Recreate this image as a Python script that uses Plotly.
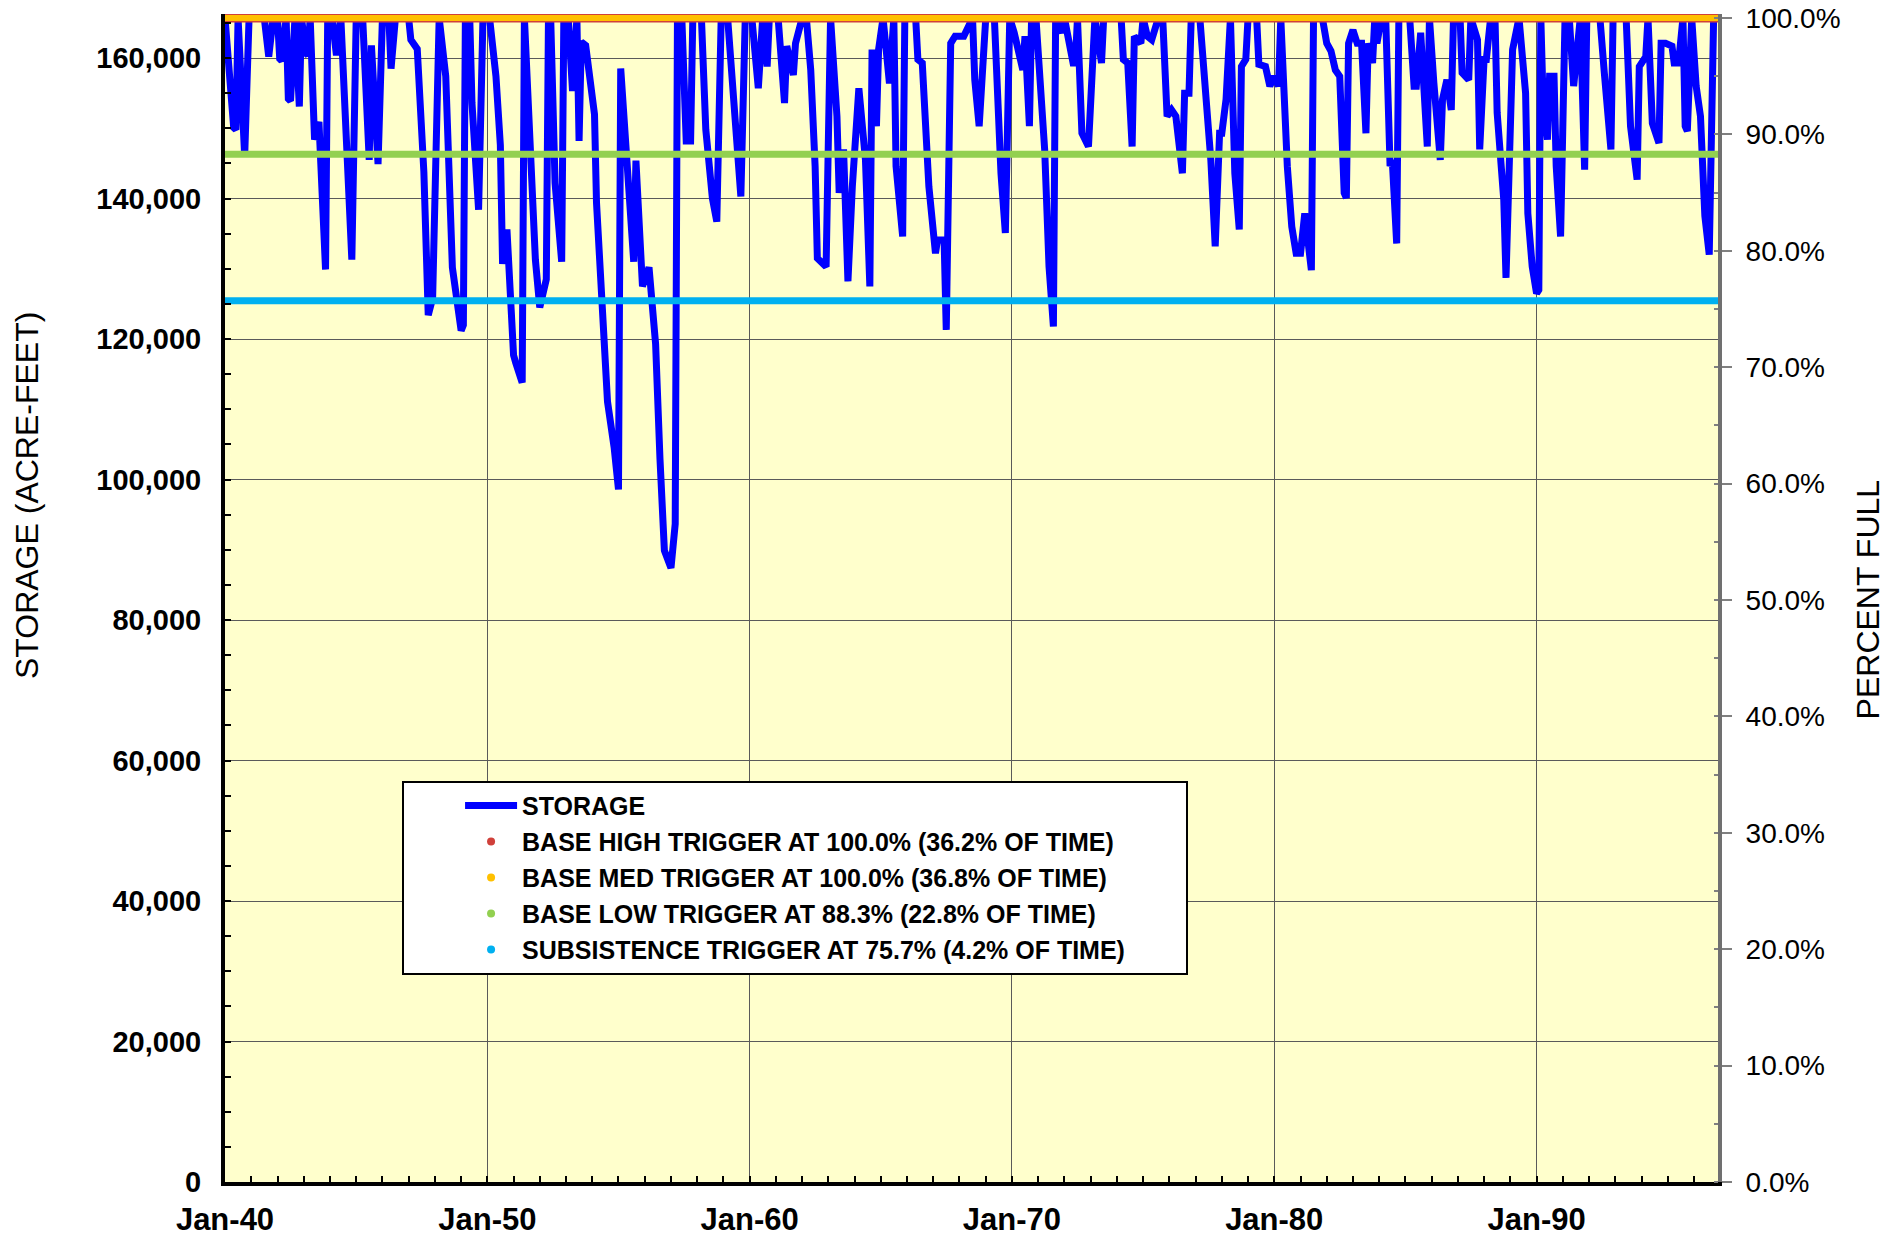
import plotly.graph_objects as go

# ---------------- data ----------------
CAPACITY_AF = 165700          # 100 % full, acre-feet
T = CAPACITY_AF               # reservoir full

months = [
    "1940-01", "1940-02", "1940-05", "1940-06", "1940-07", "1940-10", "1940-12",
    "1941-07", "1941-09", "1941-11",
    "1942-01", "1942-02", "1942-03", "1942-05", "1942-06", "1942-07", "1942-09", "1942-11", "1942-12",
    "1943-02", "1943-03", "1943-04", "1943-06", "1943-08", "1943-11", "1943-12",
    "1944-02", "1944-04", "1944-06", "1944-11",
    "1945-01", "1945-04", "1945-07", "1945-08", "1945-11",
    "1946-01", "1946-04", "1946-05", "1946-07",
    "1947-01", "1947-02", "1947-05", "1947-08", "1947-10", "1947-12",
    "1948-03", "1948-06", "1948-09", "1948-11",
    "1949-01", "1949-02", "1949-03", "1949-05", "1949-06", "1949-09", "1949-11",
    "1950-02", "1950-05", "1950-07", "1950-08", "1950-10",
    "1951-01", "1951-02", "1951-05", "1951-06", "1951-09", "1951-11",
    "1952-01", "1952-04", "1952-05", "1952-06", "1952-08", "1952-11", "1952-12",
    "1953-02", "1953-04", "1953-06", "1953-07", "1953-08", "1953-10",
    "1954-02", "1954-03", "1954-06", "1954-08", "1954-11",
    "1955-01", "1955-02", "1955-05", "1955-08", "1955-09", "1955-12",
    "1956-03", "1956-06", "1956-08", "1956-10",
    "1957-01", "1957-03", "1957-04", "1957-06", "1957-08", "1957-10", "1957-11",
    "1958-03", "1958-05", "1958-08", "1958-10", "1958-12",
    "1959-03", "1959-06", "1959-09", "1959-11",
    "1960-02", "1960-05", "1960-07", "1960-09", "1960-10",
    "1961-02", "1961-05", "1961-06", "1961-09", "1961-10", "1961-11",
    "1962-01", "1962-03", "1962-05", "1962-07", "1962-08", "1962-12",
    "1963-02", "1963-05", "1963-06", "1963-08", "1963-10", "1963-12",
    "1964-02", "1964-03", "1964-06", "1964-08", "1964-09", "1964-11", "1964-12",
    "1965-02", "1965-05", "1965-07", "1965-08", "1965-11", "1965-12",
    "1966-05", "1966-06", "1966-08", "1966-11",
    "1967-02", "1967-03", "1967-06", "1967-07", "1967-09", "1967-11",
    "1968-03", "1968-07", "1968-08", "1968-10",
    "1969-01", "1969-05", "1969-08", "1969-10", "1969-12",
    "1970-02", "1970-04", "1970-06", "1970-07", "1970-09", "1970-10", "1970-12",
    "1971-04", "1971-06", "1971-08", "1971-09", "1971-12",
    "1972-01", "1972-05", "1972-06", "1972-07", "1972-09", "1972-12",
    "1973-02", "1973-03", "1973-06", "1973-07",
    "1974-03", "1974-04", "1974-06", "1974-08", "1974-09", "1974-12",
    "1975-01", "1975-03", "1975-05", "1975-06", "1975-08", "1975-10", "1975-12",
    "1976-02", "1976-04", "1976-07", "1976-08", "1976-10", "1976-11",
    "1977-03", "1977-06", "1977-08", "1977-10", "1977-12",
    "1978-01", "1978-03", "1978-05", "1978-07", "1978-09", "1978-10", "1978-12",
    "1979-01", "1979-05", "1979-06", "1979-09", "1979-11",
    "1980-01", "1980-03", "1980-04", "1980-07", "1980-09", "1980-11",
    "1981-01", "1981-03", "1981-06", "1981-07", "1981-11",
    "1982-01", "1982-03", "1982-05", "1982-07", "1982-09", "1982-10", "1982-11",
    "1983-01", "1983-03", "1983-05", "1983-07", "1983-08", "1983-10", "1983-11", "1983-12",
    "1984-02", "1984-04", "1984-06", "1984-07", "1984-09", "1984-10",
    "1985-03", "1985-05", "1985-06", "1985-08", "1985-11", "1985-12",
    "1986-02", "1986-05", "1986-06", "1986-08", "1986-10", "1986-11",
    "1987-02", "1987-03", "1987-06", "1987-07", "1987-10", "1987-11",
    "1988-01", "1988-02", "1988-04", "1988-06", "1988-07", "1988-08", "1988-10", "1988-11",
    "1989-01", "1989-02", "1989-05", "1989-08", "1989-09", "1989-11",
    "1990-01", "1990-02", "1990-03", "1990-04", "1990-06", "1990-07", "1990-09", "1990-10", "1990-12",
    "1991-02", "1991-04", "1991-06", "1991-09", "1991-11", "1991-12",
    "1992-06", "1992-08", "1992-11", "1992-12",
    "1993-06", "1993-08", "1993-11", "1993-12",
    "1994-03", "1994-04", "1994-06", "1994-09", "1994-10", "1994-12",
    "1995-03", "1995-04", "1995-06", "1995-08", "1995-09", "1995-10", "1995-12",
    "1996-02", "1996-04", "1996-06", "1996-08", "1996-10", "1996-12",
]

storage_af = [
    T, 161800, 150100, 149800, T, 146000, T,
    T, 160200, T,
    T, 159900, 159600, T, 154200, 153900, T, 153100, T,
    160700, 160400, T, 148400, 150900, 129900, T,
    T, 160400, T, 131300,
    T, T, 145500, 161800, 144900,
    T, T, 158500, T,
    T, 162600, 161300, 143800, 123400, 125800,
    T, 157400, 130200, 124700,
    121200, 122000, T, T, 153600, 138400, T,
    T, 157400, 147600, 130700, 135600,
    117700, 116600, 113800, T, 141100, 131300,
    124500, 128500, T, T, 142200, 131000, T,
    T, 155300, T, 148200, 162300, 161800,
    152000, 139400, 124700, 111100, 104600,
    98600, 158500, 145400, 131000, 145400, 127500,
    130200, 119300, 102900, 89900,
    87400, 93700, T, T, 148200, 148200, T,
    T, 149800, 140000, 136700, T,
    T, 152000, 140300, T,
    T, 155700, T, 158800, T,
    T, 153600, 161700, 157600, 162100, 163100,
    T, T, 158300, 144600, 131500, 130300,
    T, 151700, 140800, 147000, 128200, 141700,
    152600, 155700, 145500, 127500, 161200, 150300, 161200,
    T, 156400, T, 144600, 134600, T,
    T, 159800, 159300, 141700,
    132200, 134100, 134100, 121300, 162100, 163100,
    163100, T, 156900, 150300,
    T, T, 143600, 135100, T,
    163600, 160700, 158300, 163100, 150300, T, T,
    147000, 130300, 121800, T, 163600,
    T, 159300, 159300, T, 149300, 147400,
    158800, T, 159300, T,
    T, 159800, 159300, 147400, 163100, 162100,
    T, 163100, 162600, 163600, T, T, 151700,
    152600, 151700, 143600, 155000, 155000, T,
    T, 154100, 145500, 133200, 149300,
    149300, 154100, T, 143600, 135600, 158800, 159800,
    T, T, 159100, 158800, 156000,
    157400, 156000, T, 144600, 136000, 132200,
    132200, 137900, 129800, T, T,
    162100, 161000, 158300, 157400, 140800, 140100, 162100,
    164000, 162100, 162100, 149300, 162100, 159300, T, 162100,
    T, T, 144600, 145500, 133600, T,
    T, 156000, 156000, 163600, 147400, T,
    156400, 145500, 154100, 156900, 152600, T,
    T, 157900, 156900, T, 162600, 147000,
    159800, 159800, T, T, 152200, 148400, 139800, 128700,
    147900, 161200, T, 155000, 137900, 130300,
    126500, 127000, T, 154100, 148400, 157400, 157400, 144600, 134600,
    T, T, 156000, T, 144100, T,
    T, 157900, 147000, T,
    T, 150300, 142700, 158800,
    160200, T, 150700, 147900, 162100, 162100,
    161700, 159300, 159300, T, 150300, 149600, T,
    156000, 151700, 137500, 132000, T, T,
]

trigger_names = [
    "BASE HIGH TRIGGER AT 100.0% (36.2% OF TIME)",
    "BASE MED TRIGGER AT 100.0% (36.8% OF TIME)",
    "BASE LOW TRIGGER AT 88.3% (22.8% OF TIME)",
    "SUBSISTENCE TRIGGER AT 75.7% (4.2% OF TIME)",
]
trigger_pct = [1.000, 1.000, 0.883, 0.757]
trigger_colors = ["#D0403A", "#FFC000", "#92D050", "#00B0F0"]
trigger_widths = [9, 6, 7, 7]

# ---------------- styling ----------------
FONT = "Liberation Sans, Arial, sans-serif"
GRID = "#5a5a5a"
HEADROOM = 1 + 4 / 1164        # a few pixels above full so the top line is not clipped

fig = go.Figure()

# storage line
fig.add_trace(go.Scatter(
    x=months, y=storage_af, mode="lines", name="STORAGE",
    line=dict(color="#0000FF", width=7), legendgroup="g0",
    yaxis="y", hoverinfo="skip",
))

# trigger lines (drawn on the percent axis)
for name, pct, col, w in zip(trigger_names, trigger_pct, trigger_colors, trigger_widths):
    fig.add_trace(go.Scatter(
        x=[months[0], months[-1]], y=[pct, pct], mode="lines",
        line=dict(color=col, width=w), showlegend=False, yaxis="y2",
        hoverinfo="skip",
    ))

# legend entries (dots) for the triggers
for i, (name, col) in enumerate(zip(trigger_names, trigger_colors)):
    label = name + ("\u00a0" * 8 if name.startswith("SUBSISTENCE") else "")
    fig.add_trace(go.Scatter(
        x=[None], y=[None], mode="markers", name=label,
        marker=dict(color=col, size=8), legendgroup="g%d" % (i + 1),
        yaxis="y2",
    ))

fig.update_layout(
    width=1904, height=1238,
    margin=dict(l=225, r=186, t=14, b=56, autoexpand=False),
    paper_bgcolor="white", plot_bgcolor="#FFFFCC",
    font=dict(family=FONT, color="black"),
    hovermode=False,
    showlegend=True,
    legend=dict(
        x=0.1186, y=0.3435, xanchor="left", yanchor="top",
        bgcolor="white", bordercolor="black", borderwidth=2,
        font=dict(family=FONT, size=25, color="black", weight="bold"),
        itemwidth=52, indentation=56, tracegroupgap=0.5, traceorder="grouped",
    ),
    xaxis=dict(
        type="date", range=["1940-01-01", "1996-12-01"], automargin=False,
        tick0="1940-01-01", dtick="M120", tickformat="%b-%y",
        ticks="inside", ticklen=6, tickwidth=2, tickcolor="black",
        showline=True, linecolor="black", linewidth=4,
        showgrid=True, gridcolor=GRID, gridwidth=1, zeroline=False,
        tickfont=dict(family=FONT, size=31, color="black", weight="bold"),
        ticklabelstandoff=7,
        minor=dict(tick0="1940-01-01", dtick="M12", ticks="inside", ticklen=6,
                   tickwidth=2, tickcolor="black", showgrid=False),
    ),
    yaxis=dict(
        range=[0, CAPACITY_AF * HEADROOM], tick0=0, dtick=20000, tickformat=",d",
        automargin=False,
        ticks="inside", ticklen=6, tickwidth=2, tickcolor="black",
        showline=True, linecolor="black", linewidth=4,
        showgrid=True, gridcolor=GRID, gridwidth=1, zeroline=False,
        tickfont=dict(family=FONT, size=29, color="black", weight="bold"),
        ticklabelstandoff=14,
        minor=dict(dtick=5000, ticks="inside", ticklen=6, tickwidth=2,
                   tickcolor="black", showgrid=False),
    ),
    yaxis2=dict(
        overlaying="y", side="right", range=[0, HEADROOM], tick0=0, dtick=0.1,
        automargin=False,
        tickformat=".1%", ticks="outside", ticklen=10, tickwidth=2, tickcolor="#808080",
        showline=True, linecolor="#707070", linewidth=4,
        showgrid=False, zeroline=False,
        tickfont=dict(family=FONT, size=28, color="black"),
        ticklabelstandoff=8,
        minor=dict(dtick=0.05, ticks="inside", ticklen=4, tickwidth=2, tickcolor="#808080"),
    ),
    annotations=[
        dict(text="STORAGE (ACRE-FEET)", xref="paper", yref="paper", x=-0.1326, y=0.5873,
             textangle=-90, showarrow=False, xanchor="center", yanchor="middle",
             font=dict(family=FONT, size=32, color="black")),
        dict(text="PERCENT FULL", xref="paper", yref="paper", x=1.1005, y=0.498,
             textangle=-90, showarrow=False, xanchor="center", yanchor="middle",
             font=dict(family=FONT, size=32, color="black")),
    ],
)

fig.write_html(
    "out.html",
    config={"displayModeBar": False},
    post_script="document.body.style.margin='0';document.body.style.overflow='hidden';",
)
